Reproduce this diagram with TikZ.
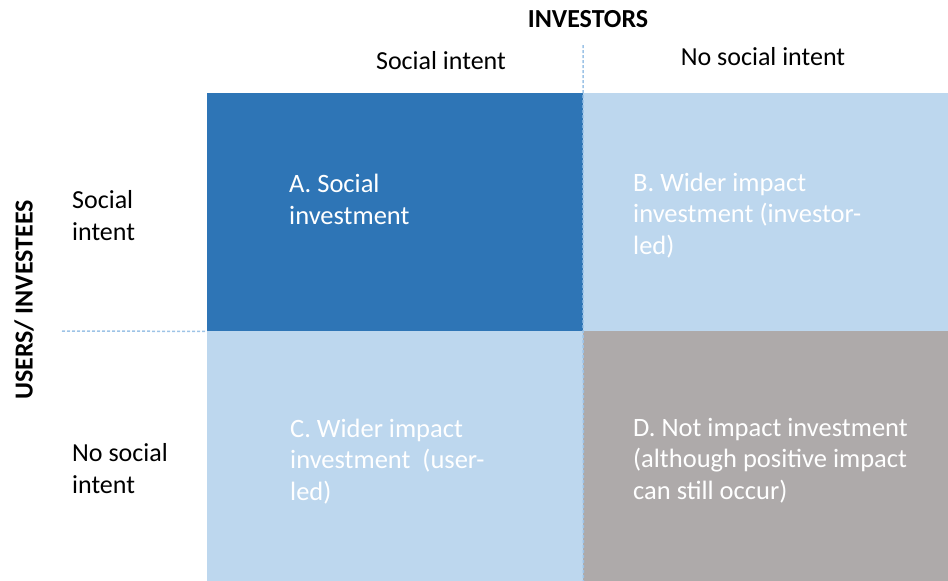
\documentclass[tikz,border=0pt]{standalone}
\usepackage{fontspec}
\setmainfont{Carlito}
\usetikzlibrary{positioning}
\definecolor{darkcell}{HTML}{2E75B6}
\definecolor{lightcell}{HTML}{BDD7EE}
\definecolor{greycell}{HTML}{AEAAAA}
\definecolor{cutblue}{HTML}{9DC3E6}

\begin{document}
\begin{tikzpicture}
[x=1pt,y=-1pt,
 cellbox/.style={draw=none,inner sep=0pt,anchor=north west},
 celltext/.style={align=left,anchor=base west,inner sep=0pt,text=white,
    font=\fontsize{26.5}{31.5}\selectfont},
 sidetext/.style={align=left,anchor=base west,inner sep=0pt,
    font=\fontsize{26}{32}\selectfont},
 headtext/.style={anchor=base,inner sep=0pt,font=\fontsize{26}{32}\selectfont},
 axistext/.style={inner sep=0pt,font=\bfseries\fontsize{26}{32}\selectfont},
 cutline/.style={draw=cutblue,line width=1.5pt,dash pattern=on 3pt off 2pt}]
\useasboundingbox (0,0) rectangle (948,581);

% the four quadrants
\node[cellbox,fill=darkcell,minimum width=376pt,minimum height=238pt] (A) at (207,93) {};
\node[cellbox,fill=lightcell,minimum width=365pt,minimum height=238pt] (B) at (583,93) {};
\node[cellbox,fill=lightcell,minimum width=376pt,minimum height=250pt] (C) at (207,331) {};
\node[cellbox,fill=greycell,minimum width=365pt,minimum height=250pt] (D) at (583,331) {};

% texts sit on the baseline of their last line
\node[celltext] (Atext) at (289,224) {A. Social\\investment};
\node[celltext] (Btext) at (633,254) {B. Wider impact\\investment (investor-\\led)};
\node[celltext] (Ctext) at (290,500) {C. Wider impact\\investment~ (user-\\led)};
\node[celltext] (Dtext) at (633,499) {D. Not impact investment\\(although positive impact\\can still occur)};

% headings
\node[axistext,anchor=base] (investors) at (588,27) {INVESTORS};
\node[headtext] (colone) at (441,69) {Social intent};
\node[headtext] (coltwo) at (763,65) {No social intent};
\node[axistext,rotate=90] (users) at (24,300) {USERS/ INVESTEES};
\node[sidetext] (rowone) at (72,240) {Social\\intent};
\node[sidetext] (rowtwo) at (72,493) {No social\\intent};

% dashed splits
\coordinate (topcut) at (583,45);
\coordinate (leftcut) at (62,331);
\draw[cutline] (topcut) -- (C.south east);
\draw[cutline] (leftcut) -- (A.south west);
\end{tikzpicture}
\end{document}
